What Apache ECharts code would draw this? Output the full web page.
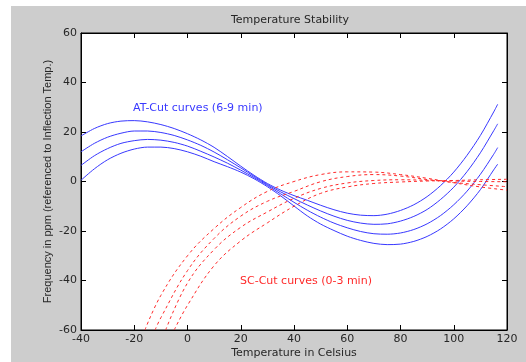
<!DOCTYPE html>
<html><head><meta charset="utf-8">
<script src="https://cdn.jsdelivr.net/npm/echarts@6/dist/echarts.min.js"></script>
<style>
html,body{margin:0;padding:0;background:#fff;width:526px;height:362px;overflow:hidden}
#c{position:absolute;left:11px;top:6px;width:515px;height:356px}
</style></head><body><div id="c"></div>
<script>
// ---- data ----
var xTicks = [-40, -20, 0, 20, 40, 60, 80, 100, 120];
var yTicks = [-60, -40, -20, 0, 20, 40, 60];

var atTemps = [-40, -35, -30, -25, -20, -15, -10, -5, 0, 5, 10, 15, 20, 25, 30, 35, 40, 45, 50, 55, 60, 65, 70, 75, 80, 85, 90, 95, 100, 105, 110, 115, 116.5];
var atCurve1 = [18.4, 21.4, 23.4, 24.4, 24.6, 24.1, 23.0, 21.4, 19.3, 16.8, 13.8, 10.1, 6.2, 2.5, -0.8, -3.5, -5.7, -7.6, -9.6, -11.4, -12.8, -13.6, -13.8, -13.2, -11.7, -9.4, -6.1, -1.7, 3.8, 10.6, 18.6, 28.1, 31.2];
var atCurve2 = [12.0, 15.4, 17.9, 19.5, 20.4, 20.4, 19.8, 18.6, 16.8, 14.6, 11.9, 8.8, 5.5, 2.1, -1.2, -4.2, -6.9, -9.5, -11.9, -14.0, -15.7, -16.8, -17.3, -17.1, -16.0, -14.1, -11.3, -7.3, -2.3, 4.0, 11.6, 20.5, 23.3];
var atCurve3 = [6.5, 10.4, 13.3, 15.4, 16.5, 17.0, 16.7, 15.8, 14.3, 12.2, 9.9, 7.4, 4.6, 1.6, -1.6, -5.0, -8.4, -11.6, -14.4, -16.8, -18.7, -20.2, -21.1, -21.3, -20.8, -19.4, -17.1, -13.8, -9.4, -3.9, 2.9, 11.0, 13.7];
var atCurve4 = [0.5, 5.1, 8.8, 11.4, 13.1, 13.9, 13.9, 13.3, 12.0, 10.2, 8.0, 6.0, 3.8, 1.1, -2.1, -5.8, -9.9, -13.9, -17.2, -19.8, -22.1, -23.8, -25.0, -25.5, -25.3, -24.2, -22.2, -19.2, -15.1, -9.8, -3.3, 4.7, 7.0];

var scTempsA = [-16, -10, 0, 10, 20, 30, 40, 50, 60, 70, 80, 90, 100, 110, 120];
var scCurveA = [-60, -46, -30, -19, -10.5, -4.0, 0.0, 2.8, 3.9, 3.8, 2.8, 1.3, -0.5, -2.2, -3.5];
var scTempsB = [-12.2, -10, 0, 10, 20, 30, 40, 50, 60, 70, 80, 90, 100, 110, 120];
var scCurveB = [-60, -55, -36, -23, -14, -8.0, -4.0, -0.1, 2.0, 2.8, 2.2, 0.8, -0.4, -1.3, -2.1];
var scTempsC = [-8.2, 0, 10, 20, 30, 40, 50, 60, 70, 80, 90, 100, 110, 120];
var scCurveC = [-60, -41, -27.5, -18.5, -12.3, -6.8, -2.8, -0.6, 0.4, 0.7, 0.5, 0.2, 0.0, -0.1];
var scTempsD = [-5, 0, 10, 20, 30, 40, 50, 60, 70, 80, 90, 100, 110, 120];
var scCurveD = [-60, -50, -34, -24, -16.7, -10.0, -4.8, -2.2, -0.8, -0.2, 0.2, 0.4, 0.7, 0.9];

var titleText = 'Temperature Stability';
var xName = 'Temperature in Celsius';
var yName = 'Frequency in ppm (referenced to Inflection Temp.)';
var atLabel = 'AT-Cut curves (6-9 min)';
var scLabel = 'SC-Cut curves (0-3 min)';

function pairs(xs, ys) { return xs.map(function (x, i) { return [x, ys[i]]; }); }

var FONT = 'DejaVu Sans, Liberation Sans, sans-serif';
var VFONT = 'Liberation Sans, Arial, sans-serif';
var BLUE = '#3838ff', RED = '#ff2a2a', TXT = '#262626';

var chart = echarts.init(document.getElementById('c'), null, {renderer: 'canvas', width: 515, height: 356});

function baseX(pos, showLabels) {
  return {
    type: 'value', position: pos, min: xTicks[0], max: xTicks[xTicks.length - 1], interval: 20,
    axisLine: {show: true, onZero: false, lineStyle: {color: '#000', width: 1}},
    axisTick: {show: true, inside: true, length: 5, lineStyle: {color: '#000'}},
    axisLabel: {show: showLabels, color: TXT, fontSize: 11, fontFamily: FONT, margin: 4},
    splitLine: {show: false}
  };
}
function baseY(pos, showLabels) {
  return {
    type: 'value', position: pos, min: yTicks[0], max: yTicks[yTicks.length - 1], interval: 20,
    axisLine: {show: true, onZero: false, lineStyle: {color: '#000', width: 1}},
    axisTick: {show: true, inside: true, length: 5, lineStyle: {color: '#000'}},
    axisLabel: {show: showLabels, color: TXT, fontSize: 11, fontFamily: FONT, margin: 4},
    splitLine: {show: false}
  };
}

var xa = [baseX('bottom', true), baseX('top', false)];
xa[0].name = xName; xa[0].nameLocation = 'middle'; xa[0].nameGap = 18; xa[0].nameMoveOverlap = false;
xa[0].nameTextStyle = {color: TXT, fontSize: 11, fontFamily: FONT};
var ya = [baseY('left', true), baseY('right', false)];
ya[0].name = yName; ya[0].nameLocation = 'middle'; ya[0].nameGap = 28; ya[0].nameMoveOverlap = false;
ya[0].nameTextStyle = {color: TXT, fontSize: 11, fontFamily: VFONT};

function atSeries(data) {
  return {type: 'line', xAxisIndex: 0, yAxisIndex: 0, data: data, smooth: 0.3, symbol: 'none',
    lineStyle: {color: BLUE, width: 1}, clip: true, silent: true, animation: false};
}
function scSeries(data) {
  return {type: 'line', xAxisIndex: 0, yAxisIndex: 0, data: data, smooth: 0.4, symbol: 'none',
    lineStyle: {color: RED, width: 1, type: [3, 3]}, clip: true, silent: true, animation: false};
}

chart.setOption({
  backgroundColor: '#cdcdcd',
  animation: false,
  grid: {left: 70, right: 19, top: 27, bottom: 32, containLabel: false, outerBoundsMode: 'none',
    show: true, backgroundColor: '#ffffff', borderColor: '#000', borderWidth: 1},
  xAxis: xa,
  yAxis: ya,
  series: [
    atSeries(pairs(atTemps, atCurve1)), atSeries(pairs(atTemps, atCurve2)),
    atSeries(pairs(atTemps, atCurve3)), atSeries(pairs(atTemps, atCurve4)),
    scSeries(pairs(scTempsA, scCurveA)), scSeries(pairs(scTempsB, scCurveB)),
    scSeries(pairs(scTempsC, scCurveC)), scSeries(pairs(scTempsD, scCurveD))
  ],
  graphic: [
    {type: 'text', x: 279, y: 14, style: {text: titleText, fill: TXT, font: '11px ' + FONT, textAlign: 'center', textVerticalAlign: 'middle'}},
    {type: 'text', x: 122, y: 102, style: {text: atLabel, fill: BLUE, font: '11px ' + FONT, textAlign: 'left', textVerticalAlign: 'middle'}},
    {type: 'text', x: 229, y: 275, style: {text: scLabel, fill: RED, font: '11px ' + FONT, textAlign: 'left', textVerticalAlign: 'middle'}}
  ]
});
</script></body></html>
